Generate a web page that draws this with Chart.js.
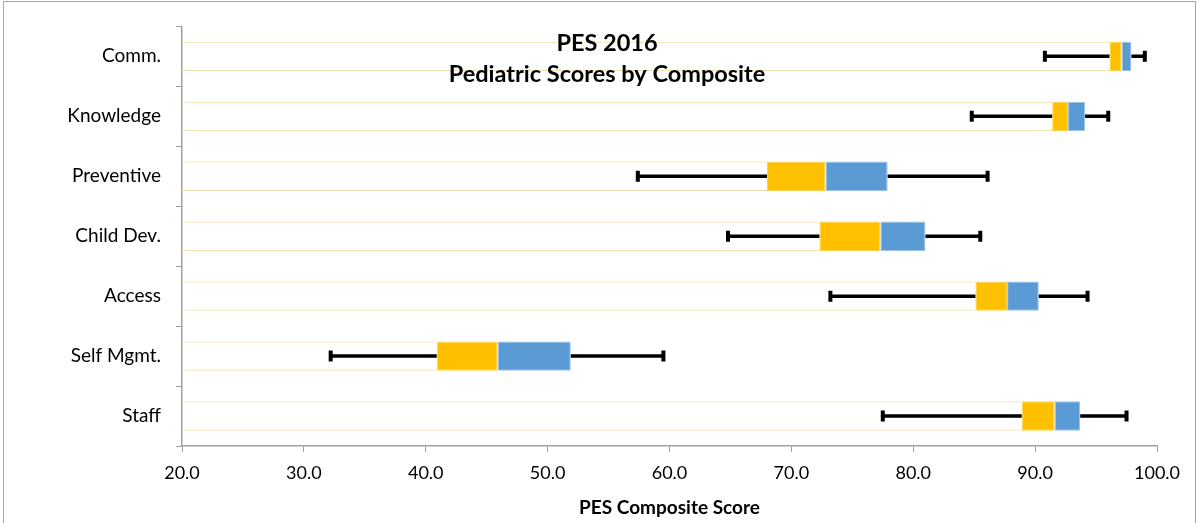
<!DOCTYPE html>
<html>
<head>
<meta charset="utf-8">
<script src="https://cdn.jsdelivr.net/npm/chart.js@4/dist/chart.umd.min.js"></script>
<style>
  html, body { margin: 0; padding: 0; background: #fff; }
  #wrap { position: relative; width: 1198px; height: 523px; }
</style>
</head>
<body>
<div id="wrap"><canvas id="myChart" width="1198" height="523"></canvas></div>
<script>
// composite categories, top to bottom
const categories = ["Comm.", "Knowledge", "Preventive", "Child Dev.", "Access", "Self Mgmt.", "Staff"];

// box plot values
const minScores = [90.8, 84.8, 57.4, 64.8, 73.2, 32.2, 77.5];
const q1Scores = [96.1, 91.4, 68.0, 72.3, 85.1, 40.9, 88.9];
const medianScores = [97.1, 92.7, 72.8, 77.3, 87.7, 45.9, 91.6];
const q3Scores = [97.9, 94.1, 77.9, 81.0, 90.3, 51.9, 93.7];
const maxScores = [99.0, 96.0, 86.1, 85.5, 94.3, 59.5, 97.5];

const axisMin = 20;
const axisMax = 100;
const axisStep = 10;

const titleLines = ["PES 2016", "Pediatric Scores by Composite"];
const xTitle = "PES Composite Score";

const FONT = "Lato, 'Open Sans', sans-serif";

// draws the whiskers (min -> Q1, Q3 -> max) with end caps
const whiskerPlugin = {
  id: "whiskers",
  afterDatasetsDraw(chart) {
    const { ctx, scales: { x, y } } = chart;
    ctx.save();
    ctx.strokeStyle = "#000";
    categories.forEach((cat, i) => {
      const yc = y.getPixelForValue(i);
      const xMin = x.getPixelForValue(minScores[i]);
      const xQ1 = x.getPixelForValue(q1Scores[i]);
      const xQ3 = x.getPixelForValue(q3Scores[i]);
      const xMax = x.getPixelForValue(maxScores[i]);
      ctx.lineWidth = 3.5;
      ctx.beginPath();
      ctx.moveTo(xMin, yc);
      ctx.lineTo(xQ1, yc);
      ctx.moveTo(xQ3, yc);
      ctx.lineTo(xMax, yc);
      ctx.stroke();
      ctx.lineWidth = 4;
      ctx.beginPath();
      ctx.moveTo(xMin, yc - 5.5);
      ctx.lineTo(xMin, yc + 5.5);
      ctx.moveTo(xMax, yc - 5.5);
      ctx.lineTo(xMax, yc + 5.5);
      ctx.stroke();
    });
    ctx.restore();
  }
};

// chart title sits inside the plot area, plus the outer frame
const titlePlugin = {
  id: "insideTitle",
  beforeDraw(chart) {
    const ctx = chart.ctx;
    ctx.save();
    ctx.strokeStyle = "#a6a6a6";
    ctx.lineWidth = 1;
    ctx.strokeRect(3.5, 1.5, 1192, 530);
    ctx.restore();
  },
  afterDraw(chart) {
    const ctx = chart.ctx;
    ctx.save();
    ctx.fillStyle = "#000";
    ctx.font = "bold 23.5px " + FONT;
    ctx.textAlign = "center";
    ctx.textBaseline = "middle";
    ctx.fillText(titleLines[0], 607, 43);
    ctx.fillText(titleLines[1], 607, 74);
    ctx.restore();
  }
};

function mainEvent() {
  const target = document.querySelector("#myChart");

  const chart = new Chart(target, {
    type: "bar",
    data: {
      labels: categories,
      datasets: [
        {
          // empty band from the axis to Q1, only its outline shows
          label: "base",
          data: categories.map((c, i) => [axisMin, q1Scores[i]]),
          backgroundColor: "rgba(255,255,255,0)",
          borderColor: "#efe2b0",
          borderWidth: { top: 1, bottom: 1, left: 0, right: 0 },
          borderSkipped: false
        },
        {
          label: "Q1 - Median",
          data: categories.map((c, i) => [q1Scores[i], medianScores[i]]),
          backgroundColor: "#ffc000",
          borderColor: "#ffd24d",
          borderWidth: 1,
          borderSkipped: false
        },
        {
          label: "Median - Q3",
          data: categories.map((c, i) => [medianScores[i], q3Scores[i]]),
          backgroundColor: "#5b9bd5",
          borderColor: "#9dc3e6",
          borderWidth: 1,
          borderSkipped: false
        }
      ]
    },
    options: {
      indexAxis: "y",
      responsive: false,
      animation: false,
      grouped: false,
      barPercentage: 0.49,
      categoryPercentage: 1,
      layout: { padding: { top: 23, right: 41, left: 0, bottom: 0 } },
      plugins: {
        legend: { display: false },
        tooltip: { enabled: false }
      },
      scales: {
        x: {
          min: axisMin,
          max: axisMax,
          ticks: {
            stepSize: axisStep,
            color: "#000",
            padding: 10,
            font: { family: FONT, size: 18 },
            callback: (v) => Number(v).toFixed(1)
          },
          grid: {
            drawOnChartArea: false,
            tickLength: 6,
            color: "#a0a0a0"
          },
          border: { color: "#a0a0a0", width: 1.5 },
          title: {
            display: true,
            text: xTitle,
            color: "#000",
            font: { family: FONT, size: 19, weight: "bold" },
            padding: { top: 0, bottom: 4 }
          },
          afterFit: (scale) => { scale.height = 77; }
        },
        y: {
          ticks: {
            color: "#000",
            padding: 15,
            font: { family: FONT, size: 19 }
          },
          grid: {
            offset: true,
            drawOnChartArea: false,
            tickLength: 6,
            color: "#a0a0a0"
          },
          border: { color: "#a0a0a0", width: 1.5 },
          afterFit: (scale) => { scale.width = 182; }
        }
      }
    },
    plugins: [whiskerPlugin, titlePlugin]
  });
  return chart;
}

document.addEventListener("DOMContentLoaded", () => mainEvent());
</script>
</body>
</html>
